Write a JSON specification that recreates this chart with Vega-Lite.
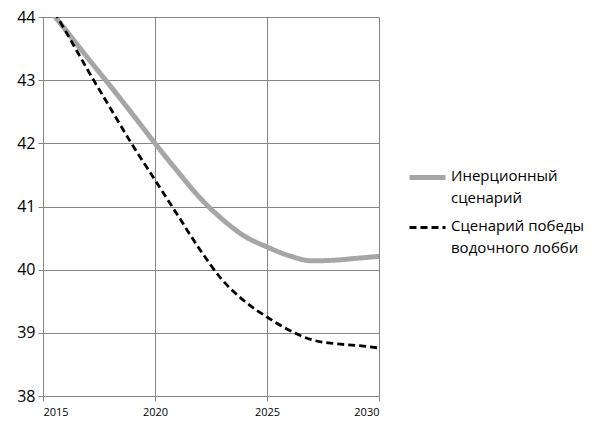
{
  "$schema": "https://vega.github.io/schema/vega-lite/v6.json",
  "width": 336,
  "height": 379,
  "autosize": {"type": "none"},
  "padding": {"left": 43, "top": 17, "right": 221, "bottom": 33},
  "background": "white",
  "config": {
    "view": {"stroke": null},
    "font": "Open Sans"
  },
  "data": {
    "values": [
      {"year": 2015, "value": 44.24, "series": "Инерционный сценарий"},
      {"year": 2016, "value": 43.8, "series": "Инерционный сценарий"},
      {"year": 2017, "value": 43.35, "series": "Инерционный сценарий"},
      {"year": 2018, "value": 42.91, "series": "Инерционный сценарий"},
      {"year": 2019, "value": 42.46, "series": "Инерционный сценарий"},
      {"year": 2020, "value": 42.0, "series": "Инерционный сценарий"},
      {"year": 2021, "value": 41.56, "series": "Инерционный сценарий"},
      {"year": 2022, "value": 41.14, "series": "Инерционный сценарий"},
      {"year": 2023, "value": 40.8, "series": "Инерционный сценарий"},
      {"year": 2024, "value": 40.53, "series": "Инерционный сценарий"},
      {"year": 2025, "value": 40.36, "series": "Инерционный сценарий"},
      {"year": 2026, "value": 40.22, "series": "Инерционный сценарий"},
      {"year": 2027, "value": 40.14, "series": "Инерционный сценарий"},
      {"year": 2028, "value": 40.15, "series": "Инерционный сценарий"},
      {"year": 2029, "value": 40.18, "series": "Инерционный сценарий"},
      {"year": 2030, "value": 40.21, "series": "Инерционный сценарий"},
      {"year": 2015, "value": 44.38, "series": "Сценарий победы водочного лобби"},
      {"year": 2016, "value": 43.78, "series": "Сценарий победы водочного лобби"},
      {"year": 2017, "value": 43.16, "series": "Сценарий победы водочного лобби"},
      {"year": 2018, "value": 42.56, "series": "Сценарий победы водочного лобби"},
      {"year": 2019, "value": 41.97, "series": "Сценарий победы водочного лобби"},
      {"year": 2020, "value": 41.42, "series": "Сценарий победы водочного лобби"},
      {"year": 2021, "value": 40.87, "series": "Сценарий победы водочного лобби"},
      {"year": 2022, "value": 40.32, "series": "Сценарий победы водочного лобби"},
      {"year": 2023, "value": 39.84, "series": "Сценарий победы водочного лобби"},
      {"year": 2024, "value": 39.5, "series": "Сценарий победы водочного лобби"},
      {"year": 2025, "value": 39.25, "series": "Сценарий победы водочного лобби"},
      {"year": 2026, "value": 39.04, "series": "Сценарий победы водочного лобби"},
      {"year": 2027, "value": 38.89, "series": "Сценарий победы водочного лобби"},
      {"year": 2028, "value": 38.83, "series": "Сценарий победы водочного лобби"},
      {"year": 2029, "value": 38.8, "series": "Сценарий победы водочного лобби"},
      {"year": 2030, "value": 38.76, "series": "Сценарий победы водочного лобби"}
    ]
  },
  "mark": {"type": "line", "interpolate": "monotone", "clip": true},
  "encoding": {
    "x": {
      "field": "year", "type": "quantitative",
      "scale": {"domain": [2015, 2030], "nice": false, "zero": false},
      "axis": {
        "values": [2015, 2020, 2025, 2030], "format": "d", "title": null,
        "grid": true, "gridColor": "#868686", "gridWidth": 1,
        "domainColor": "#868686", "ticks": true, "tickSize": 5, "tickColor": "#868686",
        "labelFontSize": 11, "labelColor": "#000", "labelPadding": 5,
        "labelFont": "Open Sans"
      }
    },
    "y": {
      "field": "value", "type": "quantitative",
      "scale": {"domain": [38, 44], "nice": false, "zero": false},
      "axis": {
        "values": [38, 39, 40, 41, 42, 43, 44], "title": null,
        "grid": true, "gridColor": "#868686", "gridWidth": 1,
        "domainColor": "#868686", "ticks": true, "tickSize": 5, "tickColor": "#868686",
        "labelFontSize": 16, "labelColor": "#000", "labelPadding": 3,
        "labelFont": "Open Sans"
      }
    },
    "color": {
      "field": "series", "type": "nominal",
      "scale": {"range": ["#A6A6A6", "#000000"]},
      "legend": {
        "title": null, "orient": "none", "legendX": 364, "legendY": 140, "padding": 0,
        "symbolType": "stroke", "symbolSize": 1296, "symbolStrokeWidth": 3,
        "labelFontSize": 15, "labelColor": "#000", "labelFont": "Open Sans",
        "labelExpr": "datum.label == 'Инерционный сценарий' ? ['Инерционный', 'сценарий'] : ['Сценарий победы', 'водочного лобби']",
        "labelBaseline": "top", "rowPadding": 2, "labelOffset": 3,
        "encode": {"labels": {"update": {"lineHeight": {"value": 22}, "dy": {"value": -9}}}}
      }
    },
    "strokeDash": {
      "field": "series", "type": "nominal",
      "scale": {"range": [[1, 0], [7, 4]]},
      "legend": null
    },
    "strokeWidth": {
      "field": "series", "type": "nominal",
      "scale": {"range": [5, 2.8]},
      "legend": null
    }
  }
}
